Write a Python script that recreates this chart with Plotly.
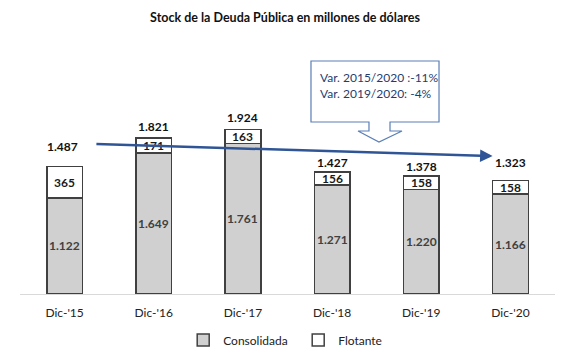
import plotly.graph_objects as go

categories = ["Dic-'15", "Dic-'16", "Dic-'17", "Dic-'18", "Dic-'19", "Dic-'20"]
consolidada = [1122, 1649, 1761, 1271, 1220, 1166]
flotante = [365, 171, 163, 156, 158, 158]
totales = [1487, 1821, 1924, 1427, 1378, 1323]
total_labels = ["1.487", "1.821", "1.924", "1.427", "1.378", "1.323"]
cons_labels = ["1.122", "1.649", "1.761", "1.271", "1.220", "1.166"]
flot_labels = ["365", "171", "163", "156", "158", "158"]
callout_lines = ["Var. 2015/2020 :-11%", "Var. 2019/2020: -4%"]
title = "Stock de la Deuda Pública en millones de dólares"

W, H = 570, 354
ML, MR, MT, MB = 20, 15, 40, 60
PW, PH = W - ML - MR, H - MT - MB

def px(x):
    return (x - ML) / PW

def py(y):
    return (H - MB - y) / PH

FONT = "Lato"
OUT = "#404040"

fig = go.Figure()
fig.add_trace(go.Bar(
    x=categories, y=consolidada, name="Consolidada",
    marker=dict(color="#d0d0d0", line=dict(color=OUT, width=1.5)),
    width=0.4,
))
fig.add_trace(go.Bar(
    x=categories, y=flotante, name="Flotante",
    marker=dict(color="white", line=dict(color=OUT, width=1.5)),
    width=0.4,
))

for i in range(len(categories)):
    fig.add_annotation(x=categories[i], y=consolidada[i] / 2, text=cons_labels[i],
                       showarrow=False, yanchor="middle",
                       font=dict(family=FONT, size=12, color="#404040", weight="bold"))
    fig.add_annotation(x=categories[i], y=consolidada[i] + flotante[i] / 2, text=flot_labels[i],
                       showarrow=False, yanchor="middle",
                       font=dict(family=FONT, size=12, color="#1a1a1a", weight="bold"))

shifts = [20, 12, 12, 9, 10, 18]
for i, (t, lab) in enumerate(zip(totales, total_labels)):
    fig.add_annotation(x=categories[i], y=t, text=lab, showarrow=False,
                       yanchor="middle", yshift=shifts[i], xshift=-2 if i == 0 else 0,
                       font=dict(family=FONT, size=12, color="#111111", weight="bold"))

# trend arrow
fig.add_annotation(x=4.8, y=1612, ax=0.34, ay=1752, xref="x", yref="y",
                   axref="x", ayref="y", text="", showarrow=True,
                   arrowhead=2, arrowsize=1, arrowwidth=2.5, arrowcolor="#2f5597")

# callout shape
pts = [(311, 61), (439, 61), (439, 122), (390, 122), (390, 131), (402, 131),
       (379, 142), (358, 131), (369, 131), (369, 122), (311, 122)]
path = "M " + " L ".join(f"{px(a):.4f},{py(b):.4f}" for a, b in pts) + " Z"
fig.add_shape(type="path", path=path, xref="paper", yref="paper",
              fillcolor="white", line=dict(color="#5b7fb5", width=1.2))
fig.add_annotation(x=px(318), y=py(85), xref="paper", yref="paper",
                   text="<br>".join(callout_lines), showarrow=False,
                   xanchor="left", yanchor="middle", align="left",
                   font=dict(family=FONT, size=12, color="#1f3d6e"))

fig.update_layout(
    width=W, height=H, barmode="stack",
    margin=dict(l=ML, r=MR, t=MT, b=MB, autoexpand=False),
    paper_bgcolor="white", plot_bgcolor="white",
    title=dict(text=title, x=0.5, xanchor="center", y=1 - 18 / H, yanchor="middle",
               font=dict(family=FONT, size=12.5, color="#111111", weight="bold")),
    xaxis=dict(showgrid=False, showline=True, linecolor="#d9d9d9", linewidth=1,
               ticks="", tickfont=dict(family=FONT, size=12, color="#222222"),
               range=[-0.5, 5.5], automargin=False, ticklabelstandoff=8),
    yaxis=dict(visible=False, range=[0, PH / 0.0856]),
    legend=dict(orientation="h", x=0.52, xanchor="center",
                yref="container", y=(H - 340) / H, yanchor="middle",
                font=dict(family=FONT, size=12, color="#222222"),
                itemwidth=30, traceorder="normal", entrywidth=70, entrywidthmode="pixels"),
    showlegend=True,
)

fig.write_html("out.html")
